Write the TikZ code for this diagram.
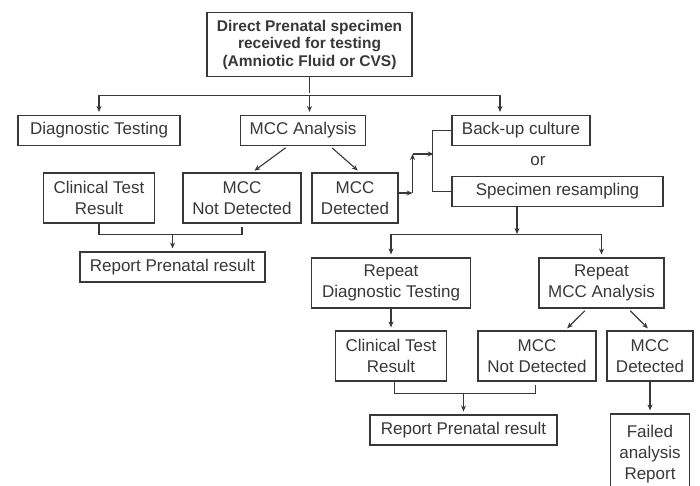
\documentclass[tikz,border=0pt]{standalone}
\usepackage{fontspec}
\setmainfont{Liberation Sans}
\usetikzlibrary{positioning,arrows.meta}
\definecolor{ink}{gray}{0.22}

\begin{document}
\begin{tikzpicture}[x=1pt,y=-1pt,on grid,color=ink,
    >={Stealth[length=6pt,width=5pt]},line width=1.1pt,shorten >=3pt,
    box/.style={draw,rectangle,align=center,inner sep=0pt,
      minimum height=30pt,font=\fontsize{17}{21}\selectfont},
    tall/.style={box,minimum height=50pt}]
   \clip (0,0) rectangle (700,486);
   \fill[white] (0,0) rectangle (700,486);
   \node[box,minimum width=205pt,minimum height=64pt,
     font=\bfseries\fontsize{15.5}{17.5}\selectfont] (root) at (309.5,44.5)
     {Direct Prenatal specimen\\received for testing\\(Amniotic Fluid or CVS)};
   \node[box,minimum width=162pt] (diag) [below left=86pt and 210.5pt of root] {Diagnostic Testing};
   \node[box,minimum width=125pt] (mcca) [right=204pt of diag] {MCC Analysis};
   \node[box,minimum width=138pt] (backup) [right=218pt of mcca] {Back-up culture};
   \node[font=\fontsize{17}{21}\selectfont] (or) [below right=31pt and 17pt of backup] {or};
   \node[box,minimum width=211pt] (resamp) [below right=61pt and 36.5pt of backup] {Specimen resampling};
   \node[tall,minimum width=111pt] (clin1) [below=67.5pt of diag] {Clinical Test\\Result};
   \node[tall,minimum width=118pt] (nd1) [right=143pt of clin1] {MCC\\Not Detected};
   \node[tall,minimum width=86pt] (det1) [right=113pt of nd1] {MCC\\Detected};
   \node[box,minimum width=185pt] (rep1) [below right=69pt and 73.5pt of clin1] {Report Prenatal result};
   \node[tall,minimum width=159pt] (rdiag) [below left=91.5pt and 166.5pt of resamp] {Repeat\\Diagnostic Testing};
   \node[tall,minimum width=125pt] (rmcc) [right=210.5pt of rdiag] {Repeat\\MCC Analysis};
   \node[tall,minimum width=111pt] (clin2) [below=73pt of rdiag] {Clinical Test\\Result};
   \node[tall,minimum width=118pt] (nd2) [right=146pt of clin2] {MCC\\Not Detected};
   \node[tall,minimum width=86pt] (det2) [right=113pt of nd2] {MCC\\Detected};
   \node[box,minimum width=187pt] (rep2) [below right=74pt and 72.5pt of clin2] {Report Prenatal result};
   \node[box,minimum width=79pt,minimum height=80pt] (fail) [below=98pt of det2] {Failed\\analysis\\Report};

   \draw (root.south) -- ++(0,18.5) coordinate (split);
   \draw[->] (split) -| (diag.north);
   \draw[->] (split) -- (split |- mcca.north);
   \draw[->] (split) -| ([xshift=-21pt]backup.north);
   \draw[->,shorten <=3pt] ([xshift=-15pt]mcca.south) -- ([xshift=10pt]nd1.north);
   \draw[->,shorten <=3pt] ([xshift=27pt]mcca.south) -- ([xshift=5pt]det1.north);
   \draw[->,shorten >=0pt] ([yshift=5pt]det1.east) -- ++(14,0) coordinate (c1);
   \draw[->,shorten >=0pt] (c1) -- ++(0,-39) coordinate (c2);
   \draw[->,shorten >=0pt] (c2) -- ++(21,0);
   \draw[shorten >=0pt] (backup.west) -- ++(-19,0) |- (resamp.west);
   \draw (clin1.south) -- ++(0,11) coordinate (j1) -| (nd1.south);
   \draw[->] (j1 -| rep1.north) -- (rep1.north);

   \draw[->,shorten >=0pt] ([xshift=-40.5pt]resamp.south) -- ++(0,27) coordinate (split2);
   \draw[->] (split2) -| (rdiag.north);
   \draw[->] (split2) -| (rmcc.north);
   \draw[->] (rdiag.south) -- (rdiag.south |- clin2.north);
   \draw[->,shorten <=3pt] ([xshift=-14.5pt]rmcc.south) -- ([xshift=28pt]nd2.north);
   \draw[->,shorten <=3pt] ([xshift=26.5pt]rmcc.south) -- (det2.north);
   \draw ([xshift=3.5pt]clin2.south) -- ++(0,11.5) coordinate (j2) -| ([xshift=-1.5pt]nd2.south);
   \draw[->] (j2 -| rep2.north) -- (rep2.north);
   \draw[->] (det2.south) -- (fail.north);
\end{tikzpicture}
\end{document}
